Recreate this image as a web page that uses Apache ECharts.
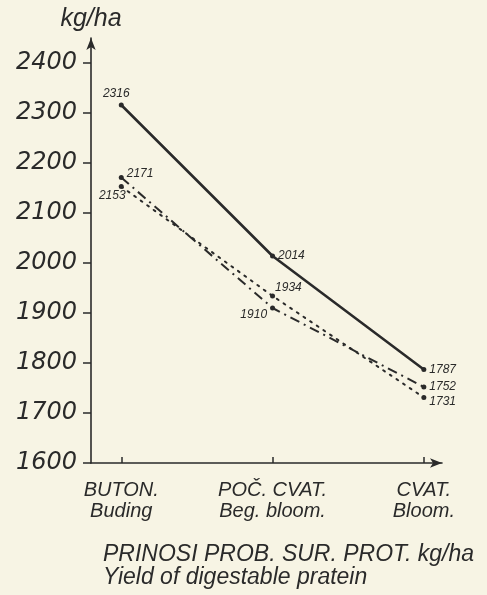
<!DOCTYPE html>
<html>
<head>
<meta charset="utf-8">
<script src="https://cdn.jsdelivr.net/npm/echarts@6/dist/echarts.min.js"></script>
<style>
html,body{margin:0;padding:0;background:#f7f4e4;}
#chart{width:487px;height:595px;}
</style>
</head>
<body>
<div id="chart"></div>
<script>
// ---- data ----
const categories = ['BUTON.\nBuding', 'POČ. CVAT.\nBeg. bloom.', 'CVAT.\nBloom.'];
const solidValues = [2316, 2014, 1787];
const dashDotValues = [2171, 1910, 1752];
const dottedValues = [2153, 1934, 1731];
const yTickValues = [1600, 1700, 1800, 1900, 2000, 2100, 2200, 2300, 2400];
const yAxisName = 'kg/ha';
const titleText = 'PRINOSI PROB. SUR. PROT. kg/ha\nYield of digestable pratein';

// ---- styling ----
const ink = '#2a2a2a';
const xIdx = categories.map((c, i) => i);

function labelCfg(pos, offset) {
  return { show: true, position: pos, offset: offset, distance: 3,
    color: ink, fontSize: 12, fontStyle: 'italic', fontFamily: 'Liberation Sans' };
}
function build(values, labels) {
  return values.map((v, i) => ({ value: [xIdx[i], v], label: labels[i] }));
}

const solidLabels = [labelCfg('top', [-5, 0]), labelCfg('right', [0, 0]), labelCfg('right', [0, 0])];
const dashLabels = [labelCfg('right', [0, -4]), labelCfg('left', [0, 7]), labelCfg('right', [0, 0])];
const dotLabels = [labelCfg('bottom', [-9, -2]), labelCfg('right', [-3, -8]), labelCfg('right', [0, 4])];

const chart = echarts.init(document.getElementById('chart'), null, { renderer: 'canvas' });
chart.setOption({
  backgroundColor: '#f7f4e4',
  animation: false,
  title: {
    text: titleText, left: 98, top: 538,
    textStyle: { color: ink, fontSize: 23, fontStyle: 'italic', fontWeight: 'normal',
      fontFamily: 'Liberation Sans', lineHeight: 23 }
  },
  grid: { left: 91, right: 45, top: 38, bottom: 132, containLabel: false, outerBoundsMode: 'none' },
  xAxis: {
    type: 'value', min: -0.2, max: 2.12,
    axisLine: { show: true, onZero: false, lineStyle: { color: ink, width: 1.6 }, symbol: ['none', 'arrow'], symbolSize: [7, 12] },
    axisTick: { show: true, inside: true, length: 6, customValues: xIdx, lineStyle: { color: ink, width: 1.5 } },
    axisLabel: { customValues: xIdx, formatter: v => categories[Math.round(v)], margin: 17,
      color: ink, fontSize: 20, fontStyle: 'italic', fontFamily: 'Liberation Sans', lineHeight: 21 },
    splitLine: { show: false }
  },
  yAxis: {
    type: 'value', min: 1600, max: 2450, interval: 100,
    name: yAxisName, nameLocation: 'end', nameGap: 6,
    nameTextStyle: { color: ink, fontSize: 25, fontStyle: 'italic', fontFamily: 'Liberation Sans', align: 'center' },
    axisLine: { show: true, onZero: false, lineStyle: { color: ink, width: 1.6 }, symbol: ['none', 'arrow'], symbolSize: [7, 12] },
    axisTick: { show: true, length: 8, customValues: yTickValues, lineStyle: { color: ink, width: 1.5 } },
    axisLabel: { customValues: yTickValues, margin: 14, color: ink, fontSize: 24,
      fontStyle: 'italic', fontFamily: 'DejaVu Sans', formatter: v => String(v) },
    splitLine: { show: false }
  },
  series: [
    { type: 'line', name: 'solid', data: build(solidValues, solidLabels),
      symbol: 'circle', symbolSize: 5, itemStyle: { color: ink },
      lineStyle: { color: ink, width: 2.6, type: 'solid' } },
    { type: 'line', name: 'dashdot', data: build(dashDotValues, dashLabels),
      symbol: 'circle', symbolSize: 5, itemStyle: { color: ink },
      lineStyle: { color: ink, width: 2, type: [10, 5, 2, 5] } },
    { type: 'line', name: 'dotted', data: build(dottedValues, dotLabels),
      symbol: 'circle', symbolSize: 5, itemStyle: { color: ink },
      lineStyle: { color: ink, width: 2, type: [2, 6], cap: 'round' } }
  ]
});
</script>
</body>
</html>
